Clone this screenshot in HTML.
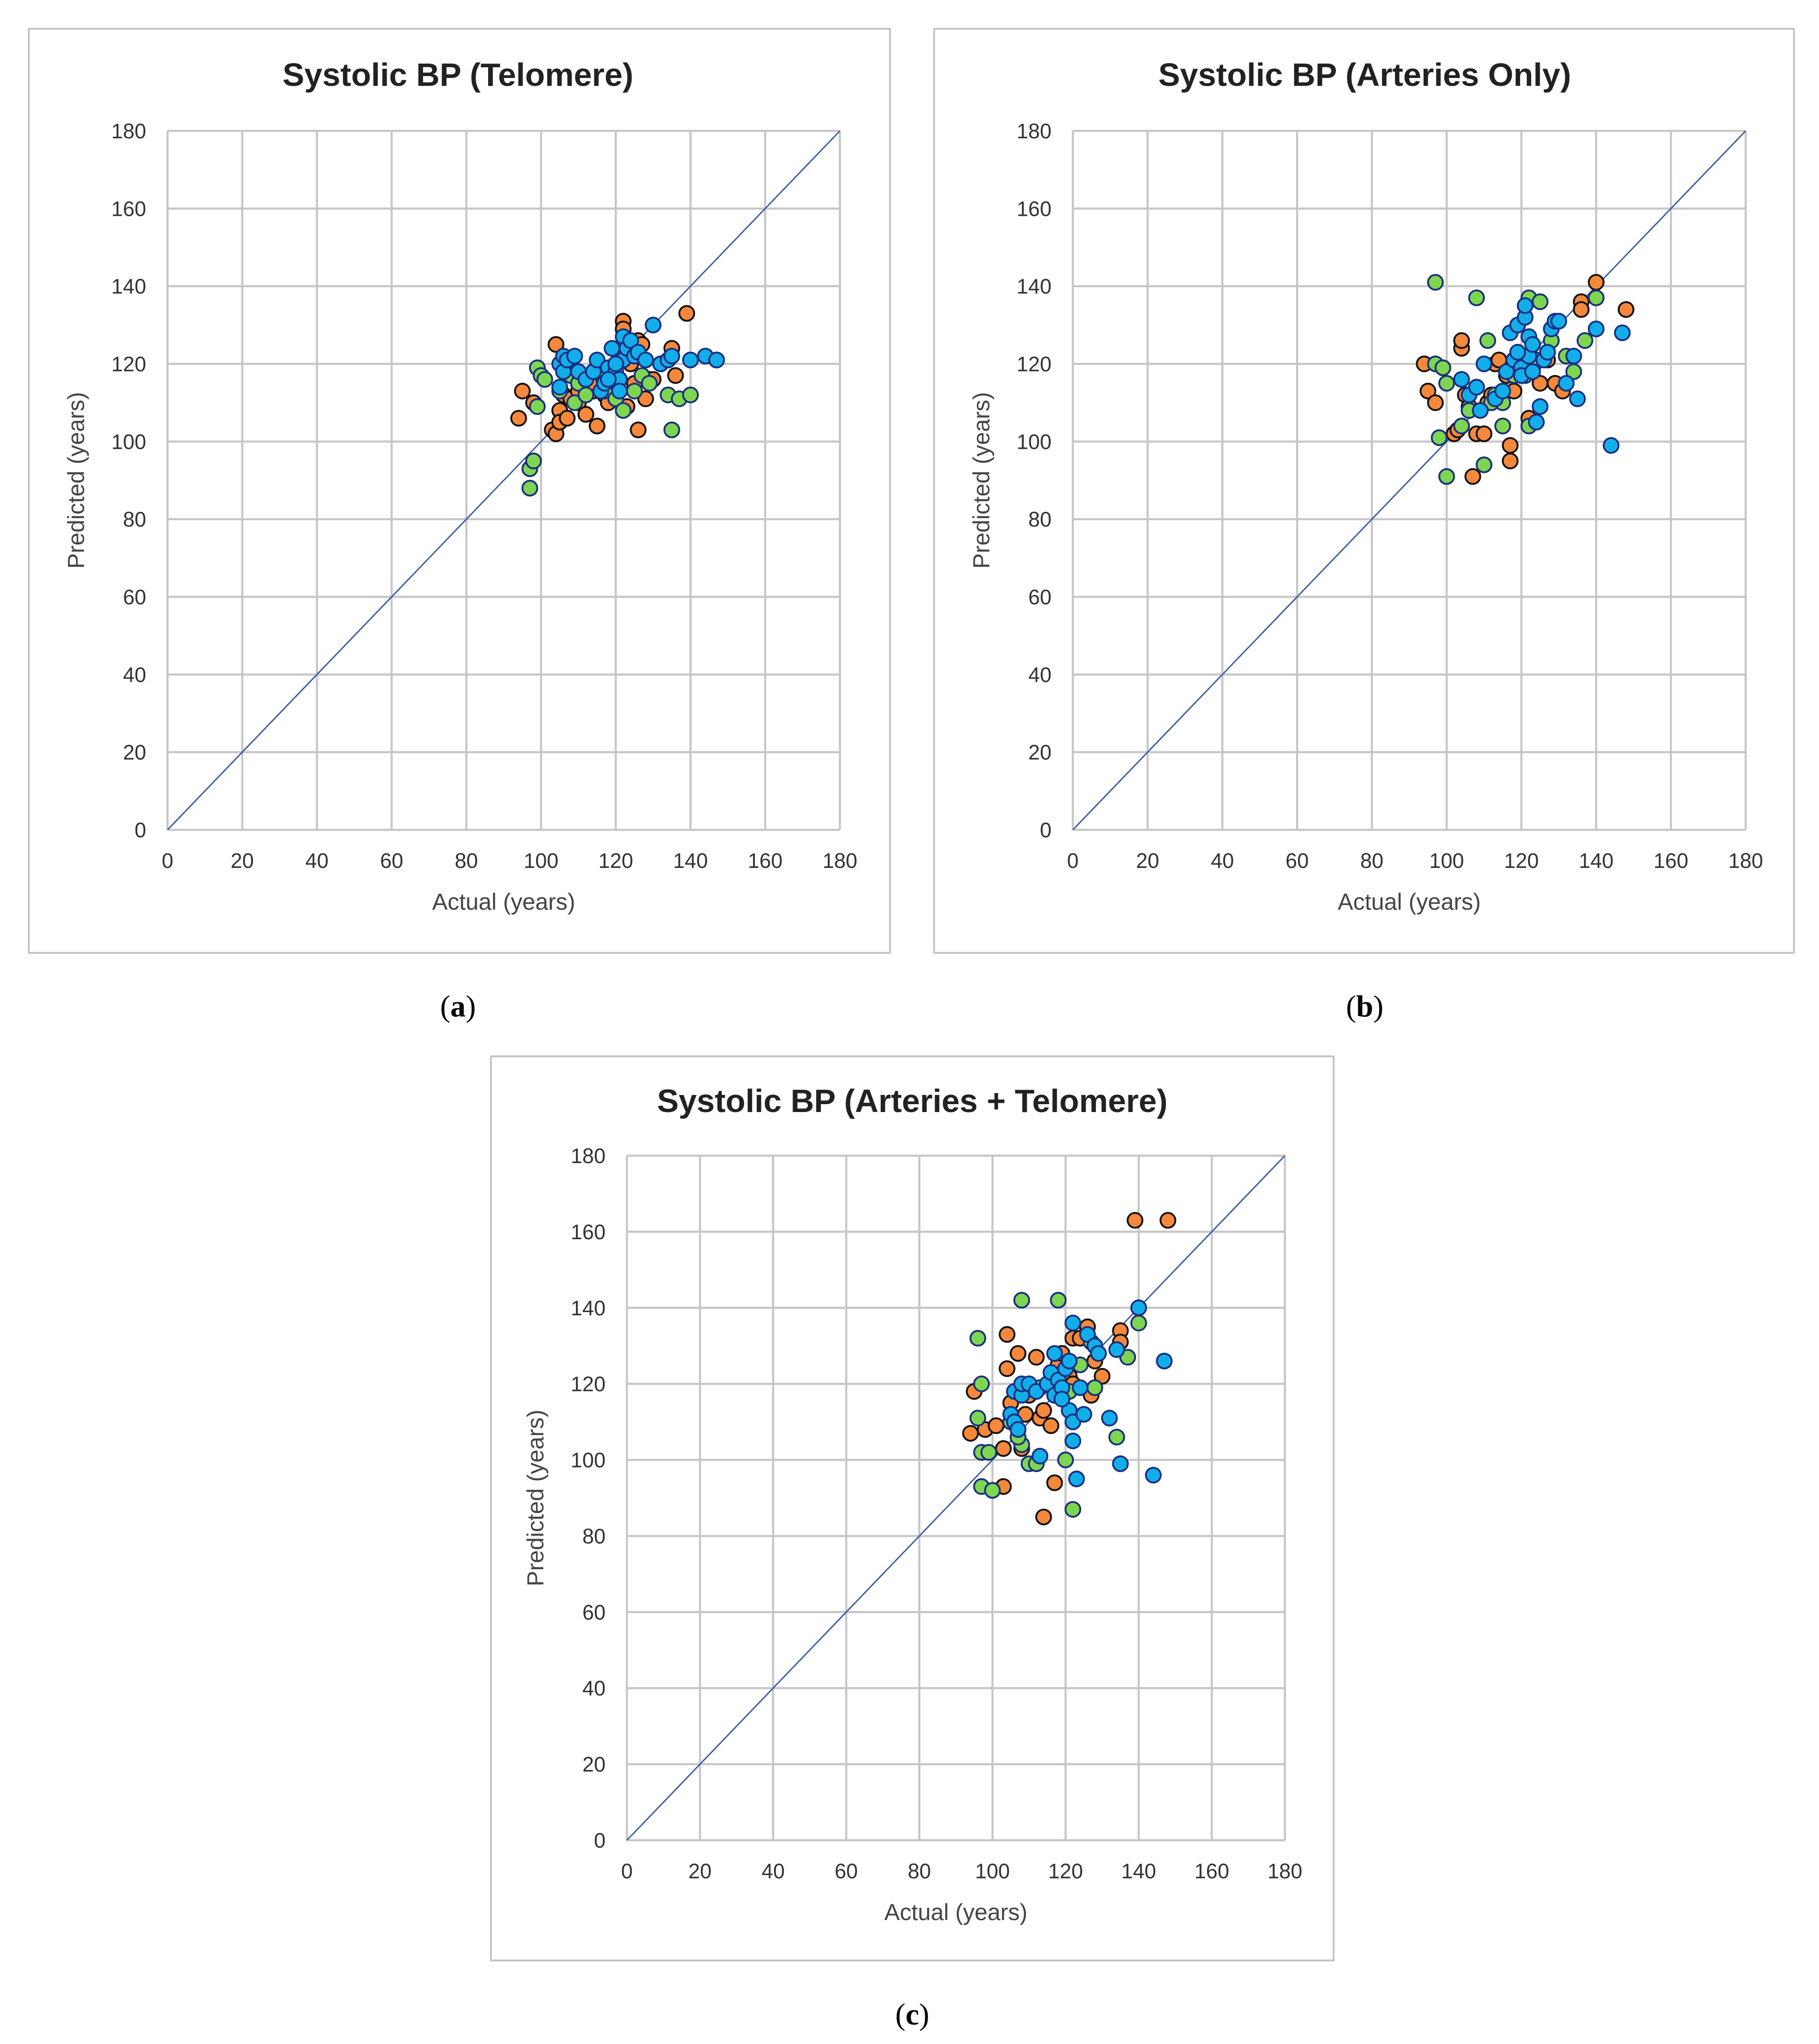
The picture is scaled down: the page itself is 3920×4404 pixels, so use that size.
<!DOCTYPE html>
<html><head><meta charset="utf-8"><style>
html,body{margin:0;padding:0;background:#fff;}
svg{display:block;}
text{font-family:"Liberation Sans",sans-serif;}
</style></head>
<body>
<svg id="fig" width="3920" height="4404" viewBox="0 0 3920 4404" xmlns="http://www.w3.org/2000/svg"></svg>
<script>
const ticks=[0,20,40,60,80,100,120,140,160,180];
const tickLabels=["0","20","40","60","80","100","120","140","160","180"];
const aOrange=[[94,106],[95,113],[98,110],[103,103],[104,125],[104,102],[105,108],[105,105],[106,112],[107,106],[108,111],[110,110],[112,107],[114,113],[115,104],[117,112],[118,114],[120,117],[122,131],[122,129],[123,109],[124,120],[125,115],[126,103],[126,126],[127,125],[128,111],[129,116],[130,116],[135,124],[136,117],[139,133],[147,121],[110,113],[113,115],[118,110],[120,112]];
const aGreen=[[97,88],[97,93],[98,95],[99,119],[100,117],[99,109],[101,116],[108,117],[109,110],[110,115],[112,112],[117,113],[120,111],[122,108],[125,113],[127,117],[129,115],[134,112],[135,103],[137,111],[140,112],[105,113]];
const aBlue=[[105,120],[106,122],[105,114],[106,118],[107,121],[109,122],[110,118],[112,116],[114,118],[115,121],[116,113],[117,115],[118,119],[119,124],[120,118],[121,116],[121,113],[122,127],[122,121],[123,124],[124,126],[125,122],[126,123],[128,121],[130,130],[132,120],[134,121],[135,122],[140,121],[144,122],[147,121],[118,116],[120,120]];
const bOrange=[[94,120],[95,113],[97,110],[102,102],[103,103],[104,124],[104,126],[105,112],[106,109],[107,91],[108,102],[110,102],[111,110],[113,120],[114,121],[116,117],[117,99],[117,95],[118,113],[120,119],[122,106],[123,119],[125,115],[127,121],[129,115],[131,113],[136,136],[136,134],[140,141],[148,134],[108,114],[112,112]];
const bGreen=[[97,141],[97,120],[98,101],[99,119],[100,91],[100,115],[104,104],[106,108],[108,137],[110,94],[111,126],[112,110],[115,110],[115,104],[118,117],[121,117],[122,104],[122,137],[124,121],[125,136],[128,126],[132,122],[134,118],[137,126],[140,137],[113,112]];
const bBlue=[[104,116],[106,112],[108,114],[109,108],[110,120],[113,111],[115,113],[116,118],[117,128],[118,121],[119,130],[120,119],[120,117],[121,132],[121,135],[122,127],[122,122],[123,118],[124,105],[125,109],[126,121],[127,123],[128,129],[129,131],[130,131],[132,115],[134,122],[135,111],[140,129],[144,99],[147,128],[119,123],[123,125]];
const cOrange=[[94,107],[95,118],[98,108],[101,109],[103,103],[103,93],[104,124],[104,133],[105,115],[106,111],[107,128],[108,103],[109,112],[112,127],[113,111],[114,85],[114,113],[116,109],[117,94],[117,123],[118,125],[121,122],[122,132],[122,120],[124,132],[126,135],[127,117],[128,126],[130,122],[135,134],[135,131],[139,163],[148,163],[110,117],[119,128]];
const cGreen=[[96,132],[96,111],[97,102],[97,93],[97,120],[99,102],[100,92],[105,110],[108,142],[108,104],[110,99],[112,99],[113,119],[118,142],[120,100],[121,118],[122,87],[124,125],[127,131],[128,119],[134,106],[137,127],[140,136],[107,106]];
const cBlue=[[105,112],[106,118],[106,110],[107,108],[108,117],[108,120],[110,120],[112,118],[113,101],[115,120],[116,123],[117,117],[117,128],[118,121],[119,119],[120,124],[121,126],[121,113],[122,110],[122,136],[122,105],[123,95],[124,119],[125,112],[126,133],[128,130],[129,128],[132,111],[134,129],[135,99],[140,140],[144,96],[147,126],[119,116]];

const NS="http://www.w3.org/2000/svg";
const svg=document.getElementById('fig');
function mk(tag,attrs,parent){const e=document.createElementNS(NS,tag);for(const k in attrs)e.setAttribute(k,attrs[k]);(parent||svg).appendChild(e);return e;}

const panels=[
 {id:'a',title:'Systolic BP (Telomere)',box:[62,62,1856,1991],x0:361,x1:1810,y0:1788,y1:282,tx:987,ty:185,lab:'(a)',lx:987,ly:2190,series:[aOrange,aGreen,aBlue]},
 {id:'b',title:'Systolic BP (Arteries Only)',box:[2013,62,1853,1991],x0:2312,x1:3762,y0:1788,y1:282,tx:2941,ty:185,lab:'(b)',lx:2941,ly:2190,series:[bOrange,bGreen,bBlue]},
 {id:'c',title:'Systolic BP (Arteries + Telomere)',box:[1058,2276,1816,1948],x0:1351,x1:2769,y0:3965,y1:2490,tx:1966,ty:2396,lab:'(c)',lx:1966,ly:4362,series:[cOrange,cGreen,cBlue]}
];
const fills=['#F5883A','#7ED650','#12AEEA'];
const strokes=['#111111','#1a2f80','#1a2f80'];
const snames=['orange','green','blue'];

panels.forEach(p=>{
 const g=mk('g',{});
 
 
 const sx=v=>p.x0+(v/180)*(p.x1-p.x0);
 const sy=v=>p.y0-(v/180)*(p.y0-p.y1);
 const box=mk('rect',{x:p.box[0],y:p.box[1],width:p.box[2],height:p.box[3],fill:'#fff',stroke:'#c4c4c4','stroke-width':4},g);
 
 
 const t=mk('text',{x:p.tx,y:p.ty,'text-anchor':'middle','font-size':70,'font-weight':'bold',fill:'#222'},g);
 t.textContent=p.title;
 
 
 ticks.forEach((v,i)=>{
  const gl=mk('line',{x1:sx(v),x2:sx(v),y1:p.y1,y2:p.y0,stroke:'#c6c6c6','stroke-width':4.5},g);
  
  
  const hl=mk('line',{x1:p.x0,x2:p.x1,y1:sy(v),y2:sy(v),stroke:'#c6c6c6','stroke-width':4.5},g);
  
  
  const xl=mk('text',{x:sx(v),y:p.y0+82,'text-anchor':'middle','font-size':45,fill:'#333'},g);
  xl.textContent=tickLabels[i];
  
  
  const yl=mk('text',{x:p.x0-46,y:sy(v)+16,'text-anchor':'end','font-size':45,fill:'#333'},g);
  yl.textContent=tickLabels[i];
  
  
 });
 const xt=mk('text',{x:(p.x0+p.x1)/2,y:p.y0+172,'text-anchor':'middle','font-size':50,fill:'#444'},g);
 xt.textContent='Actual (years)';
 
 
 const cy=(p.y0+p.y1)/2, cx=p.x0-180;
 const yt=mk('text',{x:cx,y:cy,'text-anchor':'middle','font-size':50,fill:'#444',transform:`rotate(-90 ${cx} ${cy})`},g);
 yt.textContent='Predicted (years)';
 
 
 const dl=mk('line',{x1:sx(0),y1:sy(0),x2:sx(180),y2:sy(180),stroke:'#3d5d9e','stroke-width':3},g);
 
 
 p.series.forEach((s,si)=>{
  s.forEach(d=>{
   const c=mk('circle',{cx:sx(d[0]),cy:sy(d[1]),r:16,fill:fills[si],stroke:strokes[si],'stroke-width':4},g);
   
   
  });
 });
 const lb=mk('text',{x:p.lx,y:p.ly,'text-anchor':'middle','font-size':66,fill:'#000',style:'font-family:"Liberation Serif",serif'},svg);
 lb.innerHTML='('+'<tspan font-weight="bold">'+p.id+'</tspan>)';
 
 
});
</script>
</body></html>
